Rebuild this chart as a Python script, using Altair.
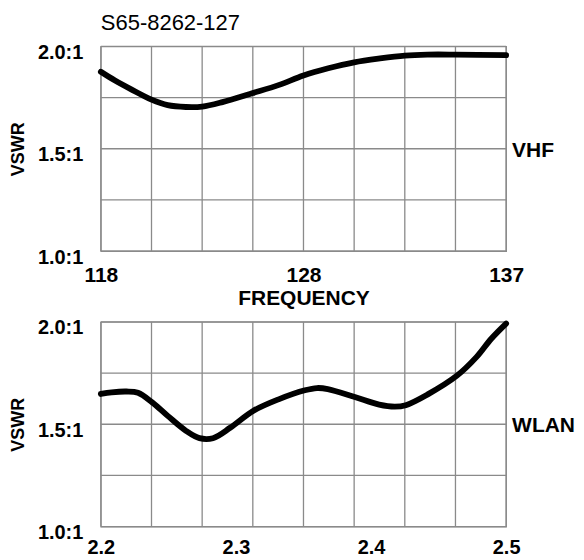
import altair as alt
import pandas as pd

# ---------------- data ----------------
chart_title = "S65-8262-127"

vhf_freq = [118, 118.7, 119.5, 120.5, 121.3, 122.2, 123, 124, 125.5, 126.8,
            128, 129.1, 130.25, 131.4, 132.5, 133.5, 134.75, 137]
vhf_vswr = [1.876, 1.833, 1.79, 1.740, 1.713, 1.704, 1.706, 1.728, 1.772, 1.812,
            1.858, 1.893, 1.922, 1.941, 1.955, 1.960, 1.960, 1.957]

wlan_freq = [2.2, 2.208, 2.219, 2.2275, 2.238, 2.2495, 2.263, 2.273, 2.283, 2.296,
             2.313, 2.332, 2.351, 2.36, 2.368, 2.388, 2.406, 2.4175, 2.4257, 2.442,
             2.4637, 2.478, 2.489, 2.5]
wlan_vswr = [1.648, 1.656, 1.660, 1.654, 1.607, 1.541, 1.468, 1.432, 1.432, 1.484,
             1.566, 1.623, 1.666, 1.677, 1.672, 1.633, 1.596, 1.586, 1.593, 1.646,
             1.738, 1.828, 1.918, 1.992]

vhf_grid = [118, 120.5, 123, 125.5, 128, 130.25, 132.5, 134.75, 137]
vhf_ticks = [118, 128, 137]
vhf_domain = [118, 128, 137]

wlan_grid = [2.2, 2.2375, 2.275, 2.3125, 2.35, 2.3875, 2.425, 2.4625, 2.5]
wlan_ticks = [2.2, 2.3, 2.4, 2.5]
wlan_domain = [2.2, 2.5]

y_grid = [1.0, 1.25, 1.5, 1.75, 2.0]
y_ticks = [1.0, 1.5, 2.0]

band_names = ["VHF", "WLAN"]
band_label_y = [1.5, 1.5]

# ---------------- style ----------------
W, H = 406, 205
FONT = "Liberation Sans"
GRID = "#8a8a8a"


def panel(freq, vswr, xdomain, xrange, xgrid, xticks, xfmt, xtitle, band, band_y,
          label_pad, label_size):
    xscale = alt.Scale(domain=xdomain, range=xrange, nice=False, zero=False)
    yscale = alt.Scale(domain=[1, 2], nice=False, zero=False)
    axis_kw = dict(values=xticks, format=xfmt, grid=False,
                   ticks=False, tickSize=0, domain=False, labelPadding=label_pad,
                   labelFontSize=label_size, labelFontWeight="bold", labelFont=FONT,
                   labelColor="black", labelFlush=False, labelOverlap=False,
                   titleFont=FONT, titleFontSize=21, titleFontWeight="bold",
                   titleColor="black", titlePadding=3)
    if xtitle:
        xaxis = alt.Axis(title=xtitle, **axis_kw)
    else:
        xaxis = alt.Axis(title=None, **axis_kw)
    yaxis = alt.Axis(values=y_ticks, format=".1f", labelExpr="datum.label + ':1'",
                     title="VSWR", grid=False, ticks=False, tickSize=0, domain=False,
                     labelPadding=18, labelFontSize=20, labelFontWeight="bold",
                     labelFont=FONT, labelColor="black", labelOffset=6,
                     labelBaseline="middle",
                     titleFont=FONT, titleFontSize=18, titleFontWeight="bold",
                     titleColor="black", titlePadding=10)
    X = lambda: alt.X("x:Q", scale=xscale, axis=xaxis)
    Y = lambda: alt.Y("y:Q", scale=yscale, axis=yaxis)

    vgrid = alt.Chart(pd.DataFrame({"x": xgrid})).mark_rule(
        color=GRID, strokeWidth=1.3).encode(x=X())
    hgrid = alt.Chart(pd.DataFrame({"y": y_grid})).mark_rule(
        color=GRID, strokeWidth=1.3).encode(y=Y())
    line = alt.Chart(pd.DataFrame({"x": freq, "y": vswr})).mark_line(
        color="black", strokeWidth=5.8, interpolate="catmull-rom",
        strokeCap="round", strokeJoin="round").encode(x=X(), y=Y())
    label = alt.Chart(pd.DataFrame({"x": [xdomain[-1]], "y": [band_y], "t": [band]})).mark_text(
        align="left", baseline="middle", dx=6, dy=2, fontSize=21, fontWeight="bold",
        font=FONT, color="black").encode(x=X(), y=Y(), text="t:N")
    return alt.layer(vgrid, hgrid, line, label).properties(width=W, height=H)


top = panel(vhf_freq, vhf_vswr, vhf_domain, [0, W / 2, W], vhf_grid, vhf_ticks, "d",
            "FREQUENCY", band_names[0], band_label_y[0], 13, 21).properties(
    title=alt.TitleParams(chart_title, anchor="start", frame="group", fontSize=22,
                          fontWeight="normal", font=FONT, color="black", offset=7))

bottom = panel(wlan_freq, wlan_vswr, wlan_domain, [0, W], wlan_grid, wlan_ticks, ".1f",
               None, band_names[1], band_label_y[1], 11, 20)

chart = alt.vconcat(top, bottom, spacing=7).properties(
    padding={"left": 0, "top": 3, "right": 0, "bottom": 0},
    background="white",
).configure_view(stroke=GRID, strokeWidth=1.3)

chart.save("out.html", embed_options={"renderer": "svg", "actions": False})
